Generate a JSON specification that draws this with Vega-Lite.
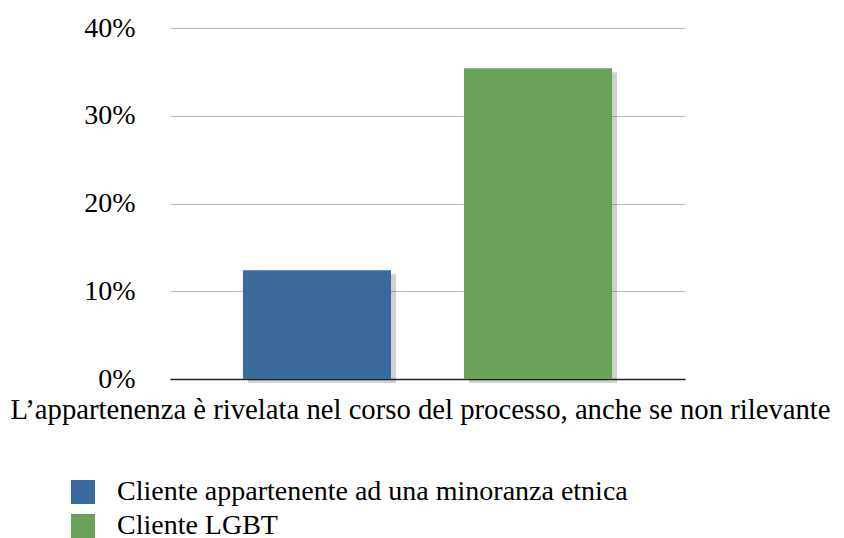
{
  "$schema": "https://vega.github.io/schema/vega-lite/v6.json",
  "autosize": "none",
  "width": 515,
  "height": 351,
  "padding": {"left": 170, "top": 28, "right": 159, "bottom": 159},
  "background": "white",
  "config": {
    "view": {"stroke": null},
    "font": "Liberation Serif"
  },
  "data": {
    "values": [
      {"gruppo": "Cliente appartenente ad una minoranza etnica", "valore": 0.124},
      {"gruppo": "Cliente LGBT", "valore": 0.354}
    ]
  },
  "encoding": {
    "x": {
      "field": "gruppo",
      "type": "nominal",
      "sort": null,
      "scale": {"paddingInner": 0.33, "paddingOuter": 0.33},
      "title": "L’appartenenza è rivelata nel corso del processo, anche se non rilevante",
      "axis": {
        "labels": false,
        "ticks": false,
        "domainColor": "#222222",
        "domainWidth": 1.5,
        "titleFont": "Liberation Serif",
        "titleFontSize": 28.7,
        "titleFontWeight": "normal",
        "titleColor": "#000000",
        "titlePadding": 16,
        "titleX": 250,
        "titleAlign": "center",
        "titleLimit": 900
      }
    },
    "y": {
      "field": "valore",
      "type": "quantitative",
      "scale": {"domain": [0, 0.4]},
      "title": null,
      "axis": {
        "format": ".0%",
        "values": [0, 0.1, 0.2, 0.3, 0.4],
        "domain": false,
        "ticks": false,
        "gridColor": "#bbbbbb",
        "gridWidth": 1.2,
        "labelFont": "Liberation Serif",
        "labelFontSize": 28,
        "labelColor": "#000000",
        "labelPadding": 35
      }
    }
  },
  "layer": [
    {
      "mark": {"type": "bar", "color": "#000000", "opacity": 0.18, "xOffset": 5, "yOffset": 4}
    },
    {
      "mark": {"type": "bar"},
      "encoding": {
        "color": {
          "field": "gruppo",
          "type": "nominal",
          "sort": null,
          "scale": {"range": ["#3a6a9d", "#6ba25a"]},
          "legend": {
            "title": null,
            "orient": "none",
            "legendX": -101,
            "legendY": 450,
            "symbolType": "square",
            "symbolSize": 576,
            "symbolStrokeWidth": 0,
            "symbolOpacity": 1,
            "labelFont": "Liberation Serif",
            "labelFontSize": 28,
            "labelColor": "#000000",
            "labelOffset": 20,
            "rowPadding": 6,
            "labelLimit": 800
          }
        }
      }
    }
  ]
}
